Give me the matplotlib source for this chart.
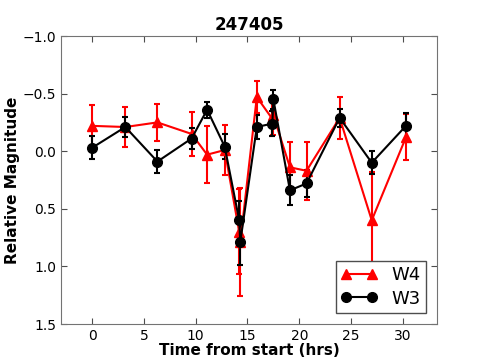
import matplotlib
matplotlib.use('Agg')
import matplotlib.pyplot as plt

# time from start (hrs) of each epoch
hours = [0.0, 3.2, 6.3, 9.6, 11.1, 12.8, 14.2, 14.3, 15.9, 17.4, 17.5,
         19.1, 20.7, 23.9, 27.0, 30.3]

w4_mag = [-0.22, -0.21, -0.25, -0.15, 0.03, -0.01, 0.70, 0.79, -0.47,
          -0.28, -0.31, 0.14, 0.17, -0.29, 0.60, -0.12]
w4_err = [0.18, 0.17, 0.16, 0.19, 0.25, 0.22, 0.37, 0.47, 0.14,
          0.15, 0.17, 0.22, 0.25, 0.18, 0.42, 0.20]

w3_mag = [-0.03, -0.21, 0.09, -0.11, -0.36, -0.04, 0.60, 0.79, -0.21,
          -0.24, -0.45, 0.34, 0.28, -0.29, 0.10, -0.22]
w3_err = [0.10, 0.09, 0.10, 0.09, 0.07, 0.11, 0.17, 0.20, 0.10,
          0.11, 0.08, 0.13, 0.12, 0.08, 0.10, 0.11]

title = '247405'

plt.rcParams['font.family'] = 'DejaVu Sans'
plt.rcParams['xtick.direction'] = 'in'
plt.rcParams['ytick.direction'] = 'in'

fig = plt.figure(figsize=(4.85, 3.6), dpi=100)
ax = fig.add_axes([0.126, 0.1, 0.775, 0.8])

w4 = ax.errorbar(hours, w4_mag, yerr=w4_err, color='red', marker='^',
                 markersize=7, linewidth=1.5, elinewidth=1.5, capsize=2.5,
                 capthick=1.5)
w3 = ax.errorbar(hours, w3_mag, yerr=w3_err, color='black', marker='o',
                 markersize=7, linewidth=1.5, elinewidth=1.5, capsize=2.5,
                 capthick=1.5)

ax.set_xlim(-3.0, 33.3)
ax.set_ylim(1.5, -1.0)
ax.set_xticks([0, 5, 10, 15, 20, 25, 30])
ax.set_yticks([-1.0, -0.5, 0.0, 0.5, 1.0, 1.5])
ax.tick_params(top=True, right=True, labelsize=10, length=4, width=0.8,
               color='0.3')
for sp in ax.spines.values():
    sp.set_color('0.45')

ax.set_title(title, fontsize=12, fontweight='bold', pad=4)
ax.set_xlabel('Time from start (hrs)', fontsize=11, fontweight='bold',
              labelpad=0)
ax.set_ylabel('Relative Magnitude', fontsize=11, fontweight='bold',
              labelpad=2)

# legend shows only the line + markers, no error bars
leg = ax.legend([w4.lines[0], w3.lines[0]], ['W4', 'W3'],
                loc='lower right', numpoints=2, fontsize=13,
                fancybox=False, framealpha=1, handlelength=2.0,
                borderaxespad=0.6, labelspacing=0.3, borderpad=0.3)
leg.get_frame().set_edgecolor('0.3')

fig.savefig('out.png', dpi=100)
